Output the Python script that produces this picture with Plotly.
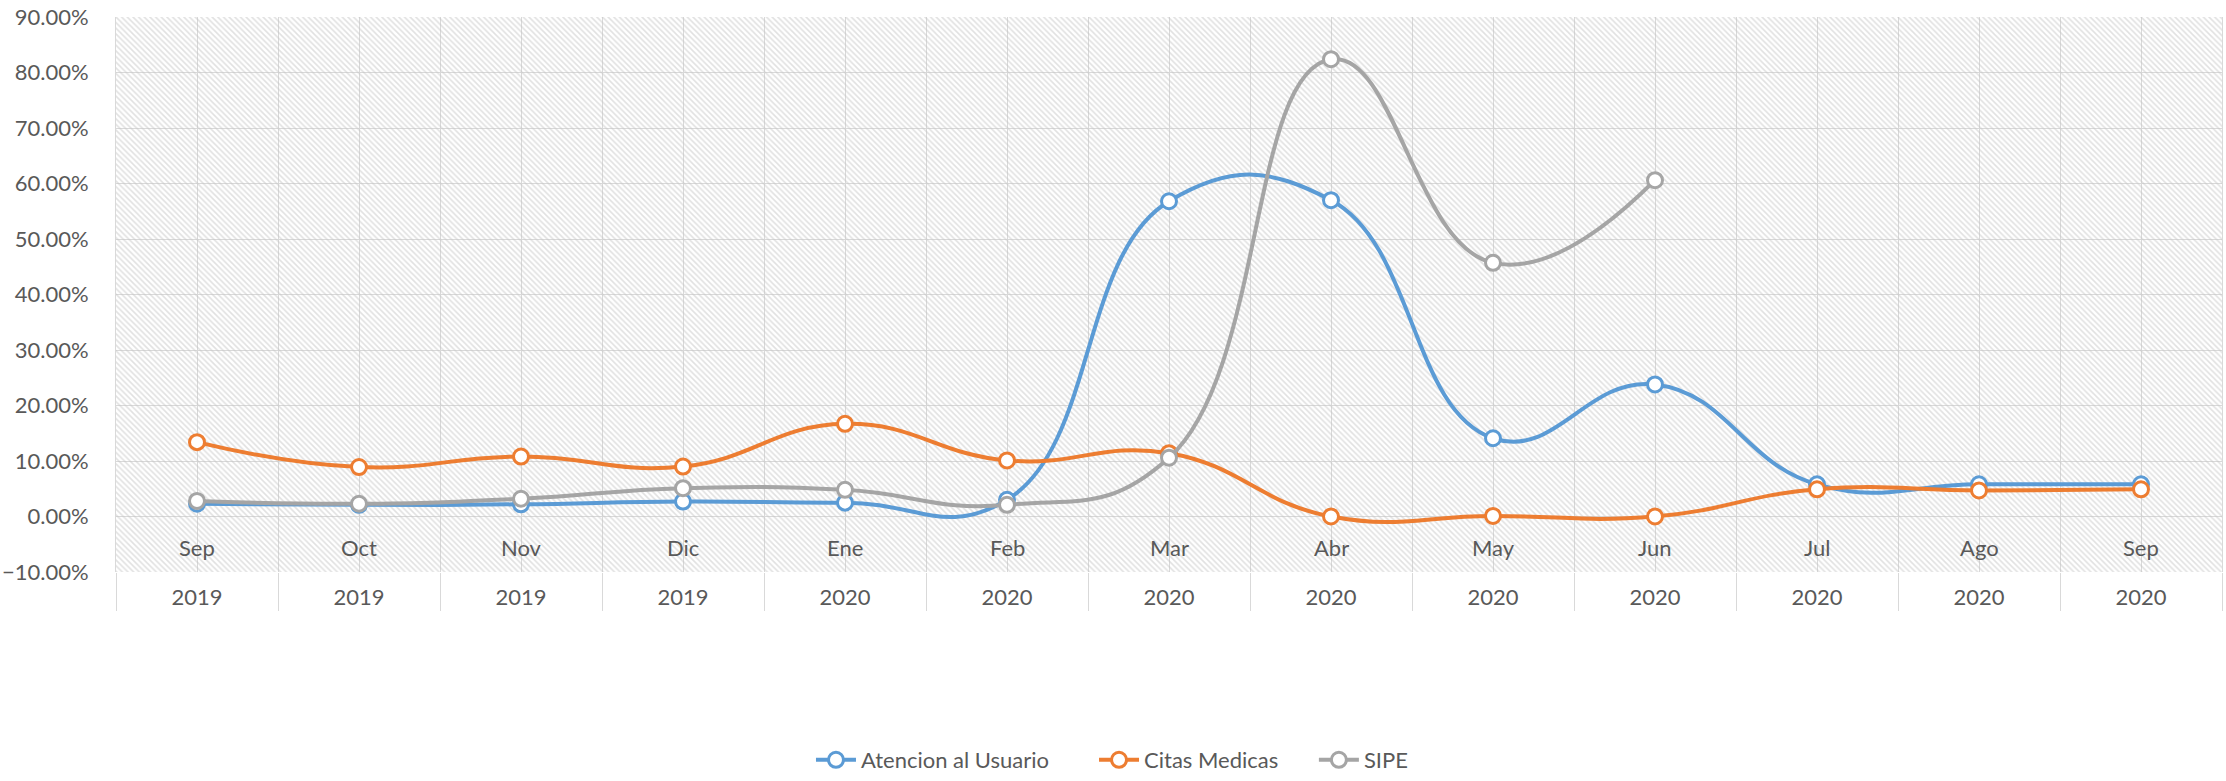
import plotly.graph_objects as go

months = ["Sep", "Oct", "Nov", "Dic", "Ene", "Feb", "Mar", "Abr", "May", "Jun", "Jul", "Ago", "Sep"]
years = ["2019", "2019", "2019", "2019", "2020", "2020", "2020", "2020", "2020", "2020", "2020", "2020", "2020"]

atencion = [2.3, 2.1, 2.2, 2.7, 2.5, 3.0, 56.8, 57.0, 14.1, 23.8, 5.8, 5.8, 5.8]
citas = [13.4, 8.9, 10.8, 9.0, 16.7, 10.1, 11.4, 0.0, 0.1, 0.0, 4.9, 4.7, 4.9]
sipe = [2.8, 2.3, 3.2, 5.1, 4.8, 2.1, 10.6, 82.4, 45.7, 60.6, None, None, None]

y_min, y_max = -10, 90
x_idx = list(range(len(months)))
x_lo, x_hi = -0.5, len(months) - 0.5

FONT = "Lato, 'Open Sans', sans-serif"
TXT = "#595959"
GRID = "#d9d9d9"
FS = 22

fig = go.Figure()

# hatched plot background
fig.add_trace(go.Scatter(
    x=[x_lo, x_hi, x_hi, x_lo, x_lo], y=[y_min, y_min, y_max, y_max, y_min],
    mode="lines", line=dict(width=0), fill="toself", fillcolor="rgba(0,0,0,0)",
    fillpattern=dict(shape="\\", fgcolor="#c4c4c4", bgcolor="rgba(0,0,0,0)", size=4, solidity=0.4),
    hoverinfo="skip", showlegend=False,
))

series = [
    ("Atencion al Usuario", atencion, "#5B9BD5", "legend"),
    ("Citas Medicas", citas, "#ED7D31", "legend2"),
    ("SIPE", sipe, "#A5A5A5", "legend3"),
]
for name, vals, col, lg in series:
    fig.add_trace(go.Scatter(
        x=x_idx, y=vals, name=name, mode="lines+markers", legend=lg,
        line=dict(color=col, width=4, shape="spline", smoothing=1.3),
        marker=dict(symbol="circle", size=15, color="white", line=dict(color=col, width=3)),
        connectgaps=False,
    ))

for i, m in enumerate(months):
    fig.add_annotation(x=i, y=-5.6, xref="x", yref="y", text=m, showarrow=False,
                       font=dict(family=FONT, size=FS, color=TXT))

leg_common = dict(orientation="h", yref="container", y=0.0, yanchor="bottom",
                  xanchor="left", font=dict(family=FONT, size=FS, color=TXT), itemwidth=40,
                  bgcolor="rgba(0,0,0,0)", borderwidth=0)
fig.update_layout(
    width=2226, height=781,
    margin=dict(l=116, r=4, t=17, b=209, autoexpand=False),
    paper_bgcolor="white", plot_bgcolor="white",
    font=dict(family=FONT, size=FS, color=TXT),
    legend=dict(x=0.33, **leg_common),
    legend2=dict(x=0.4644, **leg_common),
    legend3=dict(x=0.5688, **leg_common),
    showlegend=True,
)
fig.update_xaxes(
    range=[x_lo, x_hi], tickmode="array", tickvals=x_idx, ticktext=years,
    ticks="", ticklabelstandoff=10, automargin=False,
    showgrid=True, gridcolor=GRID, gridwidth=1,
    minor=dict(tick0=-0.5, dtick=1, showgrid=True, gridcolor=GRID, gridwidth=1,
               ticks="outside", ticklen=38, tickcolor=GRID, tickwidth=1),
    showline=False, zeroline=False,
    tickfont=dict(family=FONT, size=FS, color=TXT),
)
fig.update_yaxes(
    range=[y_min, y_max], dtick=10, tick0=0, tickformat=".2f", ticksuffix="%",
    showgrid=True, gridcolor=GRID, gridwidth=1, zeroline=False,
    showline=True, linecolor=GRID, mirror=True, linewidth=1,
    ticks="", ticklabelstandoff=22, automargin=False,
    tickfont=dict(family=FONT, size=FS, color=TXT),
)

fig.write_html("out.html", config={"displayModeBar": False},
               post_script="document.body.style.margin='0';document.body.style.overflow='hidden';")
